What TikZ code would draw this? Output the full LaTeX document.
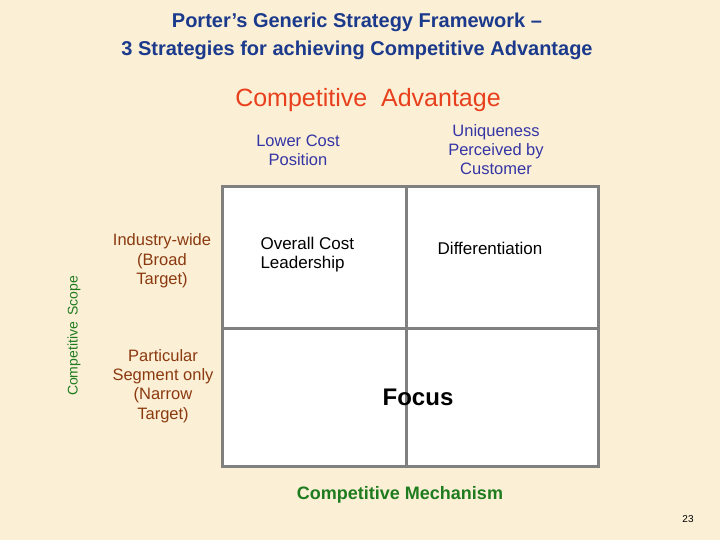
\documentclass[tikz,border=0pt]{standalone}
\usepackage{fontspec}
\setmainfont{Liberation Sans}
\usetikzlibrary{positioning}
\definecolor{parchment}{HTML}{FBEFD6}
\definecolor{titleblue}{HTML}{1B3A8C}
\definecolor{advred}{HTML}{E8401C}
\definecolor{headblue}{HTML}{3535A5}
\definecolor{scopebrown}{HTML}{8B3A10}
\definecolor{mechgreen}{HTML}{1E7B1E}
\definecolor{gridgray}{HTML}{808080}
\tikzset{
  title/.style={font=\fontsize{20}{28}\selectfont\bfseries, text=titleblue, align=center},
  colhead/.style={font=\fontsize{16.5}{19}\selectfont, text=headblue, align=center},
  rowhead/.style={font=\fontsize{16.5}{19.3}\selectfont, text=scopebrown, align=center},
  cell/.style={font=\fontsize{17}{19}\selectfont, text=black}
}
\begin{document}
\begin{tikzpicture}[x=1pt, y=-1pt]
  % Page
  \fill[parchment] (0,0) rectangle (720,540);
  \useasboundingbox (0,0) rectangle (720,540);
  % Title
  \node[title] (heading) at (357,36) {Porter’s Generic Strategy Framework –\\3 Strategies for achieving Competitive Advantage};
  \node[font=\fontsize{25}{28}\selectfont, text=advred] (advantage) at (368,100) {Competitive\ \ Advantage};
  % Column headings
  \node[colhead] (lowcost) at (298,150) {Lower Cost\\Position};
  \node[colhead] (unique) at (496,150) {Uniqueness\\Perceived by\\Customer};
  % Row headings
  \node[rowhead] (broad) at (162,261) {Industry-wide\\(Broad\\Target)};
  \node[rowhead] (narrow) at (163,386) {Particular\\Segment only\\(Narrow\\Target)};
  \node[rotate=90, font=\fontsize{14}{17}\selectfont, text=mechgreen] (scope) at (74,336) {Competitive\,\ Scope};
  % Box
  \draw[gridgray, line width=3pt, fill=white] (222,187) rectangle (598,466);
  \draw[gridgray, line width=3pt] (406,187) -- (406,466);
  \draw[gridgray, line width=3pt] (222,328) -- (598,328);
  % Strategies
  \node[cell, align=left, anchor=west] (costlead) at (257,254.5) {Overall Cost\\Leadership};
  \node[cell] (diff) at (490,248) {Differentiation};
  \node[font=\fontsize{24}{28}\selectfont\bfseries] (focus) at (418,397) {Focus};
  % Bottom
  \node[font=\fontsize{18}{21}\selectfont\bfseries, text=mechgreen] (mechanism) at (400,495) {Competitive Mechanism};
  \node[font=\fontsize{10}{12}\selectfont] (page) at (688,519) {23};
\end{tikzpicture}
\end{document}
